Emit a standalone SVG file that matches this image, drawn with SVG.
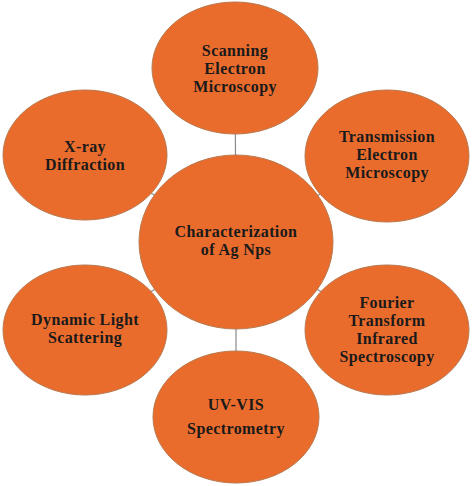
<svg xmlns="http://www.w3.org/2000/svg" width="474" height="486" viewBox="0 0 474 486">
<style>
.n{fill:#EA6C2D;stroke:#B8794F;stroke-width:1}
.t{font-family:"Liberation Serif","Times New Roman",serif;font-weight:bold;font-size:16px;letter-spacing:0.4px;fill:#1a1a1a;text-anchor:middle}
.c{stroke:#8a8a8a;stroke-width:1.2;fill:none}
</style>
<rect width="474" height="486" fill="#ffffff"/>
<g id="connectors">
<line class="c" x1="236" y1="242" x2="235" y2="68"/>
<line class="c" x1="236" y1="242" x2="85" y2="155"/>
<line class="c" x1="236" y1="242" x2="387" y2="156"/>
<line class="c" x1="236" y1="242" x2="85" y2="330"/>
<line class="c" x1="236" y1="242" x2="387" y2="330"/>
<line class="c" x1="236" y1="242" x2="236" y2="417"/>
</g>
<g id="sem">
<ellipse class="n" cx="235" cy="68" rx="83" ry="66"/>
<text class="t" x="235" y="56">Scanning</text>
<text class="t" x="235" y="74">Electron</text>
<text class="t" x="235" y="92">Microscopy</text>
</g>
<g id="xrd">
<ellipse class="n" cx="85" cy="155" rx="82" ry="65"/>
<text class="t" x="85" y="152">X-ray</text>
<text class="t" x="85" y="170">Diffraction</text>
</g>
<g id="tem">
<ellipse class="n" cx="387" cy="156" rx="82" ry="66"/>
<text class="t" x="387" y="142">Transmission</text>
<text class="t" x="387" y="160">Electron</text>
<text class="t" x="387" y="178">Microscopy</text>
</g>
<g id="dls">
<ellipse class="n" cx="85" cy="330" rx="82" ry="65"/>
<text class="t" x="85" y="325">Dynamic Light</text>
<text class="t" x="85" y="343">Scattering</text>
</g>
<g id="ftir">
<ellipse class="n" cx="387" cy="330" rx="82" ry="65"/>
<text class="t" x="387" y="308">Fourier</text>
<text class="t" x="387" y="326">Transform</text>
<text class="t" x="387" y="344">Infrared</text>
<text class="t" x="387" y="362">Spectroscopy</text>
</g>
<g id="uvvis">
<ellipse class="n" cx="236" cy="417" rx="83" ry="66"/>
<text class="t" x="236" y="410">UV-VIS</text>
<text class="t" x="236" y="434">Spectrometry</text>
</g>
<g id="center">
<ellipse class="n" cx="236" cy="242" rx="97" ry="87"/>
<text class="t" x="236" y="237">Characterization</text>
<text class="t" x="236" y="255">of Ag Nps</text>
</g>
</svg>
